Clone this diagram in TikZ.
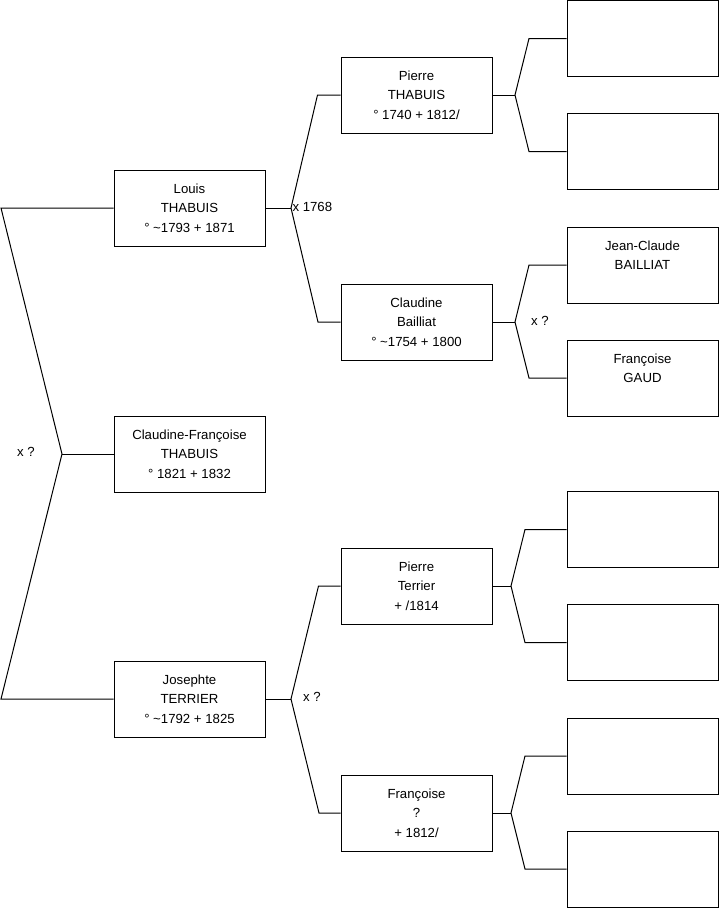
\documentclass[tikz,border=0pt]{standalone}
\usepackage{fontspec}
\setmainfont{Liberation Sans}
\begin{document}
\begin{tikzpicture}[x=0.75pt,y=-0.75pt,line width=0.75pt,
  person/.style={draw,minimum width=113.25pt,minimum height=57pt,inner sep=0pt,
    align=center,font=\fontsize{9.9}{14.6}\selectfont},
  union/.style={font=\fontsize{9.9}{11}\selectfont,inner sep=0pt}]
  \useasboundingbox (0,0) rectangle (719,908);

  % generation 1
  \node[person] (louis) at (189.5,208) {Louis\\THABUIS\\° \textasciitilde1793 + 1871};
  \node[person] (claudfr) at (189.5,454) {Claudine-Françoise\\THABUIS\\° 1821 + 1832};
  \node[person] (josephte) at (189.5,699) {Josephte\\TERRIER\\° \textasciitilde1792 + 1825};

  % generation 2
  \node[person] (pierreth) at (416.5,95) {Pierre\\THABUIS\\° 1740 + 1812/};
  \node[person] (claudba) at (416.5,322) {Claudine\\Bailliat\\° \textasciitilde1754 + 1800};
  \node[person] (pierrete) at (416.5,586) {Pierre\\Terrier\\+ /1814};
  \node[person] (francoise) at (416.5,813) {Françoise\\?\\+ 1812/};

  % generation 3
  \node[person] (a1) at (642.5,38.5) {};
  \node[person] (a2) at (642.5,151.5) {};
  \node[person] (a3) at (642.5,265) {Jean-Claude\\BAILLIAT\\\mbox{}};
  \node[person] (a4) at (642.5,378) {Françoise\\GAUD\\\mbox{}};
  \node[person] (a5) at (642.5,529.5) {};
  \node[person] (a6) at (642.5,642.5) {};
  \node[person] (a7) at (642.5,756) {};
  \node[person] (a8) at (642.5,869) {};

  % forks
  \coordinate (r0) at (1,208);
  \coordinate (r1) at (62,454);
  \coordinate (r2) at (1,699);
  \draw (louis.west) -- (r0) -- (r1) -- (r2) -- (josephte.west);
  \draw (r1) -- (claudfr.west);
  \node[union] (u0) at (26,452) {x ?};

  \coordinate (f1) at (291,208);
  \draw (louis.east) -- (f1);
  \draw (pierreth.west) -- ++(-23,0) -- (f1) -- (318,322) -- (claudba.west);
  \node[union,anchor=west] (u1) at (292,207) {x 1768};

  \coordinate (f2) at (291,699);
  \draw (josephte.east) -- (f2);
  \draw (pierrete.west) -- ++(-22,0) -- (f2) -- (319,813) -- (francoise.west);
  \node[union] (u2) at (312,697) {x ?};

  \coordinate (f3) at (515,95);
  \draw (pierreth.east) -- (f3);
  \draw (a1.west) -- (529,38.5) -- (f3) -- (529,151.5) -- (a2.west);

  \coordinate (f4) at (515,322);
  \draw (claudba.east) -- (f4);
  \draw (a3.west) -- (529,265) -- (f4) -- (529,378) -- (a4.west);
  \node[union] (u4) at (540,321) {x ?};

  \coordinate (f5) at (511,586);
  \draw (pierrete.east) -- (f5);
  \draw (a5.west) -- (525,529.5) -- (f5) -- (525,642.5) -- (a6.west);

  \coordinate (f6) at (511,813);
  \draw (francoise.east) -- (f6);
  \draw (a7.west) -- (525,756) -- (f6) -- (525,869) -- (a8.west);
\end{tikzpicture}
\end{document}
